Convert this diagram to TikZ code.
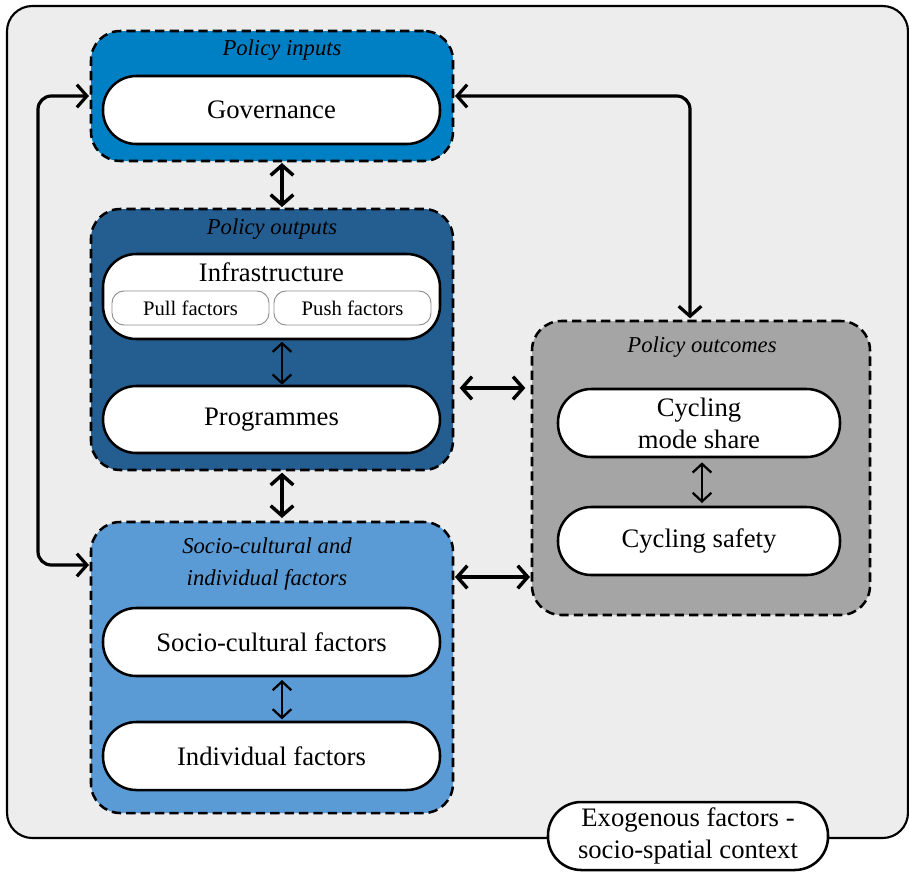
\documentclass[tikz,border=0pt]{standalone}
\usepackage{fontspec}
\setmainfont{Liberation Serif}
\usetikzlibrary{arrows.meta,calc}
\definecolor{bgc}{HTML}{EDEDED}
\definecolor{inc}{HTML}{0080C4}
\definecolor{outc}{HTML}{245E91}
\definecolor{soc}{HTML}{5B9BD5}
\definecolor{ouc}{HTML}{A5A5A5}
\definecolor{subb}{HTML}{8C8C8C}
\begin{document}
\begin{tikzpicture}[x=0.75pt,y=-0.75pt,
  frame/.style={draw=black,line width=1.6pt,fill=bgc,rounded corners=19pt,inner sep=0pt,outer sep=0pt},
  group/.style={draw=black,line width=1.9pt,dash pattern=on 7pt off 3.8pt,rounded corners=22pt,inner sep=0pt,outer sep=0pt},
  pill/.style={draw=black,line width=1.9pt,fill=white,rounded corners=25pt,inner sep=0pt,outer sep=0pt,
    font=\fontsize{20}{24}\selectfont,align=center},
  sub/.style={draw=subb,line width=0.7pt,fill=white,rounded corners=9pt,inner sep=0pt,outer sep=0pt,
    minimum width=117.75pt,minimum height=25.5pt,font=\fontsize{15.5}{18}\selectfont},
  glabel/.style={font=\fontsize{17}{24}\selectfont\itshape,align=center,inner sep=0pt},
  plain/.style={font=\fontsize{20}{24}\selectfont,align=center,inner sep=0pt},
  dbl/.style={line width=2.6pt,arrows={Straight Barb[length=7.5pt,width=17pt]-Straight Barb[length=7.5pt,width=17pt]}},
  thin/.style={line width=1.7pt,arrows={Straight Barb[length=6.5pt,width=14pt]-Straight Barb[length=6.5pt,width=14pt]}},
  loop/.style={line width=2.4pt,rounded corners=10pt}
]
\useasboundingbox (0,0) rectangle (909,872);

% outer frame
\node[frame,minimum width=675.75pt,minimum height=624pt] (frame) at (457.5,422) {};

% groups
\node[group,fill=inc,minimum width=271.5pt,minimum height=97.5pt] (inputs) at (272,96) {};
\node[group,fill=outc,minimum width=271.5pt,minimum height=195.75pt] (outputs) at (272,339.5) {};
\node[group,fill=soc,minimum width=271.5pt,minimum height=218.25pt] (socio) at (272,667.5) {};
\node[group,fill=ouc,minimum width=253.5pt,minimum height=220.5pt] (outcomes) at (701,468) {};

% group labels
\node[glabel] (linputs) at (282,50) {Policy inputs};
\node[glabel] (loutputs) at (272,229) {Policy outputs};
\node[glabel] (lsocio) at (267,564) {Socio-cultural and\\individual factors};
\node[glabel] (loutcomes) at (702,347) {Policy outcomes};

% pills
\node[pill,minimum width=252.75pt,minimum height=51pt] (gov) at (271.5,110) {Governance};
\node[pill,minimum width=252.75pt,minimum height=63.75pt] (infra) at (271.5,296.5) {};
\node[plain] (infratext) at (271.5,272) {Infrastructure};
\node[sub] (pull) at (190.5,308) {Pull factors};
\node[sub] (push) at (352.5,308) {Push factors};
\node[pill,minimum width=252.75pt,minimum height=50.25pt] (prog) at (271.5,419.5) {Programmes};
\node[pill,minimum width=252.75pt,minimum height=51pt] (scf) at (271.5,642) {Socio-cultural factors};
\node[pill,minimum width=252.75pt,minimum height=51pt] (indf) at (271.5,756) {Individual factors};
\node[pill,minimum width=211.5pt,minimum height=51pt] (cms) at (699,423) {Cycling\\mode share};
\node[pill,minimum width=211.5pt,minimum height=51pt] (cs) at (699,541) {Cycling safety};
\node[pill,minimum width=210pt,minimum height=51pt] (exo) at (688,836) {Exogenous factors -\\socio-spatial context};

% helper coordinates
\coordinate (xa) at (282,0);
\coordinate (xb) at (702,0);
\coordinate (ya) at (0,388);
\coordinate (yb) at (0,577);
\coordinate (yg) at (0,96);
\coordinate (xg) at (690,200);
\coordinate (xl) at (38,330);
\coordinate (yl) at (0,565);

% vertical arrows
\draw[dbl,shorten <=1.5pt,shorten >=1.5pt] (inputs.south -| xa) -- (outputs.north -| xa);
\draw[thin,shorten <=2pt,shorten >=1pt] (infra.south -| xa) -- (prog.north -| xa);
\draw[dbl,shorten <=2pt,shorten >=3pt] (outputs.south -| xa) -- (socio.north -| xa);
\draw[thin,shorten <=3pt,shorten >=2pt] (scf.south -| xa) -- (indf.north -| xa);
\draw[thin,shorten <=4pt,shorten >=3pt] (cms.south -| xb) -- (cs.north -| xb);

% horizontal arrows
\draw[dbl,shorten <=5pt,shorten >=5pt] (outputs.east |- ya) -- (outcomes.west |- ya);
\draw[dbl,shorten <=1.5pt,shorten >=1.5pt] (socio.east |- yb) -- (outcomes.west |- yb);

% loops
\draw[dbl,loop,shorten <=1.5pt,shorten >=2pt] (inputs.east |- yg) -| (outcomes.north -| xg);
\draw[dbl,loop,shorten <=1.5pt,shorten >=1.5pt] (inputs.west |- yg) -| (xl) |- (socio.west |- yl);
\end{tikzpicture}
\end{document}
